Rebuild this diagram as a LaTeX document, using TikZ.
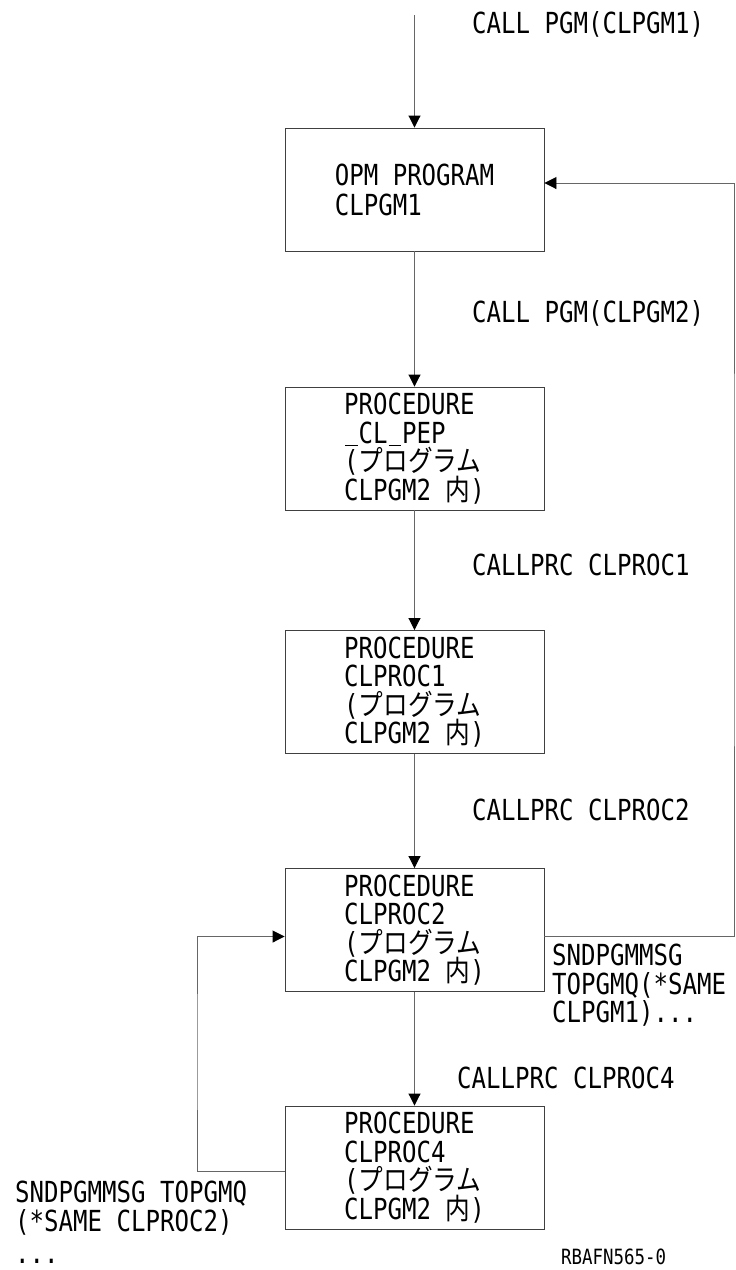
\documentclass[tikz,border=0pt]{standalone}
\usepackage{fontspec}
\setmainfont{DejaVu Sans Mono}[FakeStretch=0.83]
\newfontfamily\jp{Noto Sans CJK JP}[FakeStretch=0.85]
\usepackage{tikz}
\usetikzlibrary{positioning,arrows.meta}
\setlength{\lineskiplimit}{-100pt}
\newcommand{\us}{\makebox[14.5pt][c]{\rule[-2.5pt]{12.5pt}{1pt}}}

\begin{document}
\begin{tikzpicture}[x=1pt, y=-1pt,
  bx/.style={draw=black!75, line width=0.9pt, minimum width=259pt,
             minimum height=123pt, align=left, inner sep=0pt,
             font=\fontsize{29}{28.5}\selectfont},
  ar/.style={-{Triangle[length=12pt, width=12pt, color=black]},
             draw=black!60, line width=0.9pt},
  lb/.style={anchor=west, align=left, inner sep=0pt,
             font=\fontsize{29}{28.5}\selectfont},
]
\useasboundingbox (0,0) rectangle (736,1270);

% call chain
\node[bx] (pgm1)  at (414.5,189.5) {OPM PROGRAM\\[1.5pt]CLPGM1};
\node[bx] (pep)   at (414.5,448.5) {PROCEDURE\\\us CL\us PEP\\({\jp プログラム}\\CLPGM2 {\jp 内})};
\node[bx] (proc1) at (414.5,692)   {PROCEDURE\\CLPROC1\\({\jp プログラム}\\CLPGM2 {\jp 内})};
\node[bx] (proc2) at (414.5,930)   {PROCEDURE\\CLPROC2\\({\jp プログラム}\\CLPGM2 {\jp 内})};
\node[bx] (proc4) at (414.5,1167.5){PROCEDURE\\CLPROC4\\({\jp プログラム}\\CLPGM2 {\jp 内})};

\coordinate (start) at (414.5,15);
\coordinate (rt) at (734,560);
\coordinate (lt) at (197,1050);

\draw[ar] (start) -- (pgm1);
\draw[ar] (pgm1) -- (pep);
\draw[ar] (pep) -- (proc1);
\draw[ar] (proc1) -- (proc2);
\draw[ar] (proc2) -- (proc4);

% messages sent back up the stack
\draw[ar] ([yshift=-6.5pt]proc2.east) -| (rt) |- ([yshift=6.5pt]pgm1.east);
\draw[ar] ([yshift=-3.5pt]proc4.west) -| (lt) |- ([yshift=-6.5pt]proc2.west);

\node[lb] (c1) at (472,24)   {CALL PGM(CLPGM1)};
\node[lb] (c2) at (472,313)  {CALL PGM(CLPGM2)};
\node[lb] (c3) at (472,565)  {CALLPRC CLPROC1};
\node[lb] (c4) at (472,810)  {CALLPRC CLPROC2};
\node[lb] (c5) at (457,1078) {CALLPRC CLPROC4};

\node[lb, anchor=north west] (s1) at (552,944)
  {SNDPGMMSG\\TOPGMQ(*SAME\\CLPGM1)...};
\node[lb, anchor=north west] (s2) at (15,1181)
  {SNDPGMMSG TOPGMQ\\(*SAME CLPROC2)\\[4pt]...};

\node[lb, font=\fontsize{21}{22}\selectfont] (fig) at (561,1257) {RBAFN565-0};
\end{tikzpicture}
\end{document}
